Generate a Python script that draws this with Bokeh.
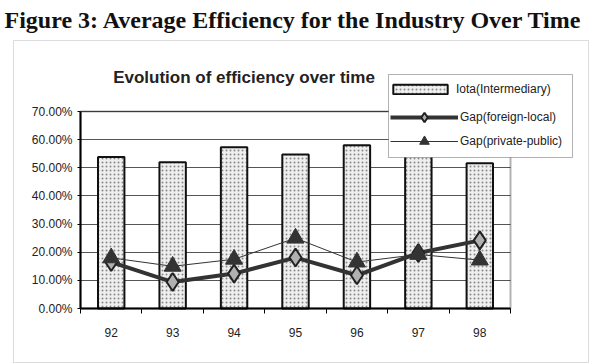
from bokeh.plotting import figure
from bokeh.models import (FactorRange, Range1d, LinearAxis, FixedTicker, Grid,
                          NumeralTickFormatter, Legend, LegendItem, Label, BoxAnnotation)
from bokeh.embed import file_html
from bokeh.resources import INLINE

# ---------------- data ----------------
years = ["92", "93", "94", "95", "96", "97", "98"]
iota = [0.538, 0.520, 0.573, 0.547, 0.580, 0.630, 0.516]
gap_foreign_local = [0.165, 0.094, 0.124, 0.181, 0.118, 0.197, 0.242]
gap_private_public = [0.180, 0.150, 0.175, 0.250, 0.165, 0.192, 0.172]
y_ticks = [0.0, 0.1, 0.2, 0.3, 0.4, 0.5, 0.6, 0.7]
series_names = ["Iota(Intermediary)", "Gap(foreign-local)", "Gap(private-public)"]
fig_title = "Figure 3: Average Efficiency for the Industry Over Time"
chart_title = "Evolution of efficiency over time"

# ---------------- layout (pixels) ----------------
SANS = "Liberation Sans"
W, H = 600, 364
PA_L, PA_R, PA_T, PA_B = 80, 510, 111, 308   # plot-area box
n = len(years)
ymax = y_ticks[-1]
px_x = (PA_R - PA_L) / n
px_y = (PA_B - PA_T) / ymax
RB = W - (PA_R + PA_L)           # keep the frame symmetric around the plot area


def dx(cx):  # pixel x -> synthetic x
    return (cx - PA_L) / px_x


def dy(cy):  # pixel y -> data y
    return (PA_B - cy) / px_y


x_range = FactorRange(factors=years, range_padding=PA_L / px_x,
                      range_padding_units="absolute")
y_range = Range1d(dy(H), dy(0))

p = figure(width=W, height=H, x_range=x_range, y_range=y_range, title=None,
           output_backend="svg", toolbar_location=None,
           x_axis_location=None, y_axis_location=None,
           min_border_left=0, min_border_right=RB, min_border_top=0, min_border_bottom=0)
p.background_fill_color = "white"
p.border_fill_color = "white"
p.outline_line_color = None
p.xgrid.visible = False
p.ygrid.visible = False

# horizontal grid limited to the plot area
yticker = FixedTicker(ticks=y_ticks)
if "cross_bounds" in Grid.properties():
    grid = Grid(dimension=1, ticker=yticker, bounds=(0, ymax), cross_bounds=(0, n),
                grid_line_color="#555555", grid_line_width=1)
    p.add_layout(grid)
else:
    p.segment(x0=[0] * len(y_ticks), x1=[n] * len(y_ticks), y0=y_ticks, y1=y_ticks,
              line_color="#555555", line_width=1, level="underlay")

# y axis
yaxis = LinearAxis(ticker=yticker, fixed_location=0, bounds=(0, ymax),
                   formatter=NumeralTickFormatter(format="0.00%"))
yaxis.axis_line_width = 2
yaxis.axis_line_color = "black"
yaxis.major_tick_out = 3
yaxis.major_tick_in = 0
yaxis.minor_tick_line_color = None
yaxis.major_label_text_font = SANS
yaxis.major_label_text_font_size = "12px"
yaxis.major_label_text_color = "#222222"
yaxis.major_label_standoff = 5
p.add_layout(yaxis, "left")

# x axis: labels at category centres, small ticks at category edges
xaxis = LinearAxis(ticker=FixedTicker(ticks=[i + 0.5 for i in range(n)],
                                      minor_ticks=list(range(n + 1))),
                   fixed_location=0, bounds=(0, n),
                   major_label_overrides={i + 0.5: yv for i, yv in enumerate(years)})
xaxis.axis_line_width = 2
xaxis.axis_line_color = "black"
xaxis.major_tick_line_color = None
xaxis.major_tick_out = 0
xaxis.major_tick_in = 0
xaxis.minor_tick_out = 5
xaxis.minor_tick_in = 0
xaxis.minor_tick_line_color = "black"
xaxis.major_label_text_font = SANS
xaxis.major_label_text_font_size = "12px"
xaxis.major_label_text_color = "#222222"
xaxis.major_label_standoff = 14
p.add_layout(xaxis, "below")

# outer chart frame
p.add_layout(BoxAnnotation(left=dx(13), right=dx(588), top=dy(40), bottom=dy(362),
                           fill_alpha=0, line_color="#8a8a8a", line_width=1))

# glyphs
bars = p.vbar(x=years, top=iota, bottom=0, width=0.43, fill_color="#efefef",
              line_color="#111111", line_width=2, hatch_pattern="dot",
              hatch_color="#888888", hatch_scale=4, hatch_weight=1)
l1 = p.line(x=years, y=gap_foreign_local, line_width=4, line_color="#333333")
s1 = p.scatter(x=years, y=gap_foreign_local, marker="diamond", size=18,
               fill_color="#b0b0b0", line_color="#222222", line_width=2)
l2 = p.line(x=years, y=gap_private_public, line_width=1, line_color="#333333")
s2 = p.scatter(x=years, y=gap_private_public, marker="triangle", size=17,
               fill_color="#333333", line_color="#333333", line_width=1)

# plot-area border
p.add_layout(BoxAnnotation(left=0, right=n, top=ymax, bottom=0, fill_alpha=0,
                           line_color="black", line_width=2))

# legend box
p.add_layout(BoxAnnotation(left=dx(388), right=dx(572), top=dy(74), bottom=dy(157),
                           fill_color="white", fill_alpha=1,
                           line_color="black", line_width=1))

leg1 = Legend(items=[LegendItem(label=series_names[0], renderers=[bars])],
              location=(386, H - 96), glyph_width=68, glyph_height=12, label_height=12,
              padding=6, margin=0, label_standoff=2, border_line_color=None,
              background_fill_alpha=0, label_text_font=SANS, label_text_font_size="12px",
              label_text_color="#222222")
leg2 = Legend(items=[LegendItem(label=series_names[1], renderers=[l1, s1]),
                     LegendItem(label=series_names[2], renderers=[l2, s2])],
              location=(390, H - 153), glyph_width=68, glyph_height=24, label_height=24,
              spacing=0, padding=2, margin=0, label_standoff=2, border_line_color=None,
              background_fill_alpha=0, label_text_font=SANS, label_text_font_size="12px",
              label_text_color="#222222")
p.add_layout(leg1, "center")
p.add_layout(leg2, "center")

# titles
p.add_layout(Label(x=dx(4), y=dy(19.5), text=fig_title,
                   text_font="Liberation Serif", text_font_style="bold",
                   text_font_size="24px", text_color="#111111",
                   text_align="left", text_baseline="alphabetic"))
p.add_layout(Label(x=dx(243.5), y=dy(77), text=chart_title,
                   text_font=SANS, text_font_style="bold", text_font_size="17px",
                   text_color="#222222", text_align="center", text_baseline="alphabetic"))

open("out.html", "w").write(file_html(p, INLINE))
